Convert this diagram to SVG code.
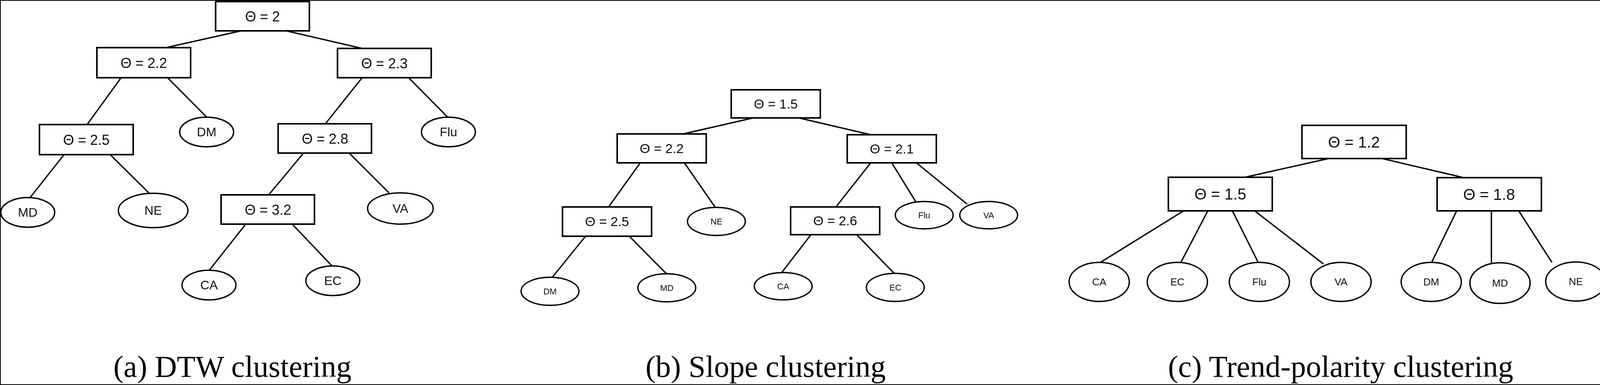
<svg xmlns="http://www.w3.org/2000/svg" width="4126" height="986" viewBox="0 0 4126 986">
<style>
rect{fill:#fff;stroke:#000;stroke-width:4}
ellipse{fill:#fff;stroke:#000;stroke-width:3.5}
#edges line{stroke:#000;stroke-width:3.5}
text{font-family:"Liberation Sans",Arial,sans-serif;text-anchor:middle;dominant-baseline:central;fill:#111}
.ba{font-size:36px}.ea{font-size:32px}
.bb{font-size:34px}.eb{font-size:22px}
.bc{font-size:40px}.ec{font-size:26px}
.cap{font-family:"Liberation Serif","Times New Roman",serif;font-size:78px;dominant-baseline:alphabetic;fill:#000}
</style>
<rect x="0" y="0" width="4126" height="986" fill="#fff" stroke="none"/>
<g id="edges">
<line x1="617" y1="79" x2="425" y2="122"/><line x1="733" y1="79" x2="927" y2="124"/>
<line x1="310" y1="199" x2="223" y2="319"/><line x1="429" y1="199" x2="529" y2="300"/>
<line x1="927" y1="199" x2="833" y2="317"/><line x1="1046" y1="199" x2="1146" y2="300"/>
<line x1="164" y1="396" x2="77" y2="506"/><line x1="282" y1="396" x2="382" y2="495"/>
<line x1="777" y1="392" x2="688" y2="499"/><line x1="894" y1="392" x2="996" y2="494"/>
<line x1="629" y1="574" x2="536" y2="692"/><line x1="748" y1="574" x2="850" y2="681"/>
<line x1="1928" y1="302" x2="1749" y2="343"/><line x1="2045" y1="302" x2="2229" y2="345"/>
<line x1="1639" y1="417" x2="1558" y2="530"/><line x1="1752" y1="417" x2="1831" y2="531"/>
<line x1="2229" y1="417" x2="2140" y2="530"/><line x1="2283" y1="417" x2="2344" y2="516"/><line x1="2346" y1="417" x2="2476" y2="523"/>
<line x1="1499" y1="605" x2="1414" y2="710"/><line x1="1611" y1="605" x2="1706" y2="701"/>
<line x1="2076" y1="601" x2="2002" y2="697"/><line x1="2193" y1="601" x2="2289" y2="700"/>
<line x1="3401" y1="406" x2="3187" y2="454"/><line x1="3538" y1="406" x2="3747" y2="455"/>
<line x1="3030" y1="540" x2="2817" y2="672"/><line x1="3092" y1="540" x2="3023" y2="672"/><line x1="3155" y1="540" x2="3221" y2="672"/><line x1="3212" y1="540" x2="3388" y2="676"/>
<line x1="3729" y1="540" x2="3665" y2="672"/><line x1="3818" y1="540" x2="3818" y2="673"/><line x1="3888" y1="540" x2="3973" y2="672"/>
</g>
<!-- panel a -->
<g id="a_root"><rect x="552" y="4" width="240" height="75"/><text class="ba" x="672" y="42">Θ = 2</text></g>
<g id="a_22"><rect x="248" y="122" width="240" height="77"/><text class="ba" x="368" y="161">Θ = 2.2</text></g>
<g id="a_23"><rect x="864" y="124" width="240" height="75"/><text class="ba" x="984" y="162">Θ = 2.3</text></g>
<g id="a_25"><rect x="101" y="319" width="240" height="77"/><text class="ba" x="221" y="358">Θ = 2.5</text></g>
<g id="a_28"><rect x="712" y="317" width="239" height="75"/><text class="ba" x="832" y="355">Θ = 2.8</text></g>
<g id="a_32"><rect x="566" y="499" width="239" height="75"/><text class="ba" x="686" y="537">Θ = 3.2</text></g>
<g id="a_DM"><ellipse cx="529" cy="338" rx="69" ry="38"/><text class="ea" x="529" y="338">DM</text></g>
<g id="a_Flu"><ellipse cx="1148" cy="338" rx="69" ry="38"/><text class="ea" x="1148" y="338">Flu</text></g>
<g id="a_MD"><ellipse cx="71" cy="544" rx="69" ry="38"/><text class="ea" x="71" y="544">MD</text></g>
<g id="a_NE"><ellipse cx="392" cy="539" rx="89" ry="44"/><text class="ea" x="392" y="539">NE</text></g>
<g id="a_VA"><ellipse cx="1025" cy="534" rx="84" ry="40"/><text class="ea" x="1025" y="534">VA</text></g>
<g id="a_CA"><ellipse cx="535" cy="730" rx="69" ry="38"/><text class="ea" x="535" y="730">CA</text></g>
<g id="a_EC"><ellipse cx="852" cy="719" rx="69" ry="38"/><text class="ea" x="852" y="719">EC</text></g>
<!-- panel b -->
<g id="b_root"><rect x="1872" y="230" width="228" height="72"/><text class="bb" x="1986" y="266">Θ = 1.5</text></g>
<g id="b_22"><rect x="1580" y="343" width="228" height="74"/><text class="bb" x="1694" y="380">Θ = 2.2</text></g>
<g id="b_21"><rect x="2169" y="345" width="228" height="72"/><text class="bb" x="2283" y="381">Θ = 2.1</text></g>
<g id="b_25"><rect x="1440" y="530" width="228" height="75"/><text class="bb" x="1554" y="567">Θ = 2.5</text></g>
<g id="b_26"><rect x="2024" y="530" width="228" height="71"/><text class="bb" x="2138" y="565">Θ = 2.6</text></g>
<g id="b_NE"><ellipse cx="1834" cy="567" rx="74" ry="36"/><text class="eb" x="1834" y="567">NE</text></g>
<g id="b_Flu"><ellipse cx="2366" cy="551" rx="74" ry="35"/><text class="eb" x="2366" y="551">Flu</text></g>
<g id="b_VA"><ellipse cx="2531" cy="551" rx="74" ry="35"/><text class="eb" x="2531" y="551">VA</text></g>
<g id="b_DM"><ellipse cx="1408" cy="746" rx="74" ry="36"/><text class="eb" x="1408" y="746">DM</text></g>
<g id="b_MD"><ellipse cx="1707" cy="737" rx="74" ry="36"/><text class="eb" x="1707" y="737">MD</text></g>
<g id="b_CA"><ellipse cx="2005" cy="733" rx="74" ry="35"/><text class="eb" x="2005" y="733">CA</text></g>
<g id="b_EC"><ellipse cx="2292" cy="736" rx="74" ry="36"/><text class="eb" x="2292" y="736">EC</text></g>
<!-- panel c -->
<g id="c_root"><rect x="3333" y="321" width="267" height="85"/><text class="bc" x="3466" y="364">Θ = 1.2</text></g>
<g id="c_15"><rect x="2991" y="454" width="266" height="86"/><text class="bc" x="3124" y="497">Θ = 1.5</text></g>
<g id="c_18"><rect x="3679" y="455" width="267" height="85"/><text class="bc" x="3812" y="498">Θ = 1.8</text></g>
<g id="c_CA"><ellipse cx="2814" cy="722" rx="77" ry="50"/><text class="ec" x="2814" y="722">CA</text></g>
<g id="c_EC"><ellipse cx="3014" cy="722" rx="77" ry="50"/><text class="ec" x="3014" y="722">EC</text></g>
<g id="c_Flu"><ellipse cx="3224" cy="722" rx="77" ry="50"/><text class="ec" x="3224" y="722">Flu</text></g>
<g id="c_VA"><ellipse cx="3433" cy="722" rx="77" ry="50"/><text class="ec" x="3433" y="722">VA</text></g>
<g id="c_DM"><ellipse cx="3664" cy="722" rx="77" ry="50"/><text class="ec" x="3664" y="722">DM</text></g>
<g id="c_MD"><ellipse cx="3840" cy="725" rx="77" ry="52"/><text class="ec" x="3840" y="725">MD</text></g>
<g id="c_NE"><ellipse cx="4034" cy="721" rx="77" ry="50"/><text class="ec" x="4034" y="721">NE</text></g>
<text class="cap" x="595" y="965">(a) DTW clustering</text>
<text class="cap" x="1960" y="965">(b) Slope clustering</text>
<text class="cap" x="3432" y="965">(c) Trend-polarity clustering</text>
</svg>
